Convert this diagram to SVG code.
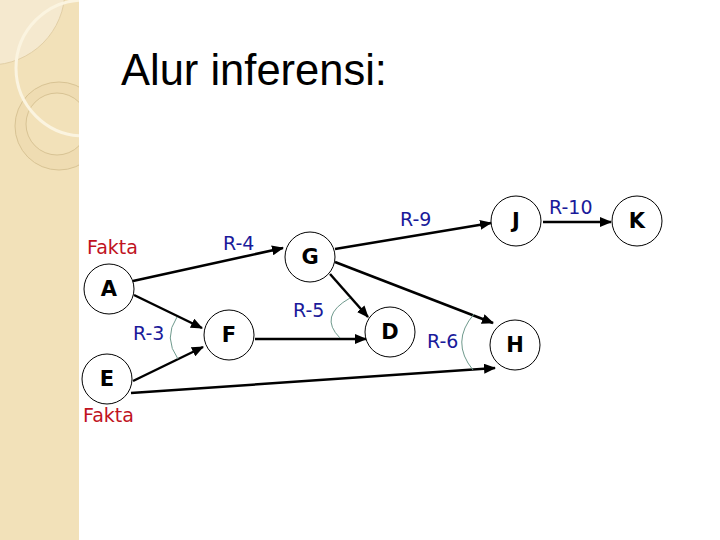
<svg xmlns="http://www.w3.org/2000/svg" width="720" height="540" viewBox="0 0 720 540">
<defs>
<marker id="ah" viewBox="0 0 12 10" refX="11" refY="5" markerWidth="12" markerHeight="10" markerUnits="userSpaceOnUse" orient="auto">
<path d="M0,0 L12,5 L0,10 Z" fill="#000"/>
</marker>
<clipPath id="band"><rect x="0" y="0" width="79" height="540"/></clipPath>
</defs>
<style>
.node circle{fill:#fff;stroke:#000;stroke-width:1}
.node text{font-family:"DejaVu Sans",Verdana,sans-serif;font-weight:bold;font-size:21px;text-anchor:middle;fill:#000}
.edge{stroke:#000;stroke-width:2.5;fill:none;marker-end:url(#ah)}
.arc{stroke:#6f9a8d;stroke-width:1;fill:none}
.rule{font-family:"DejaVu Sans",Verdana,sans-serif;font-size:19px;fill:#1a1a9a}
.fakta{font-family:"DejaVu Sans",Verdana,sans-serif;font-size:19px;fill:#c0141e}
</style>
<rect width="720" height="540" fill="#fff"/>
<g id="background" clip-path="url(#band)">
<rect x="0" y="0" width="79" height="540" fill="#f2e1b9"/>
<circle cx="-10" cy="-10" r="75" fill="#f5e9cf" stroke="#e2cfa6" stroke-width="1"/>
<circle cx="59" cy="126" r="44" fill="#efdcb2" stroke="#d8c394" stroke-width="1"/>
<circle cx="57" cy="124" r="31" fill="#f2e1b9" stroke="#d8c394" stroke-width="1"/>
<circle cx="84" cy="68" r="68" fill="none" stroke="#fbf4e0" stroke-width="3"/>
</g>
<text x="121" y="85" font-family="Liberation Sans, Arial, sans-serif" font-size="43.5" fill="#000">Alur inferensi:</text>
<g id="connectors">
<line class="edge" x1="133" y1="281" x2="283" y2="248"/>
<line class="edge" x1="134" y1="295" x2="202" y2="328"/>
<line class="edge" x1="133" y1="381" x2="203" y2="347"/>
<line class="edge" x1="131" y1="393" x2="495" y2="368"/>
<line class="edge" x1="255" y1="339" x2="366" y2="339"/>
<line class="edge" x1="330" y1="274" x2="368" y2="317"/>
<line class="edge" x1="335" y1="249" x2="491" y2="223"/>
<line class="edge" x1="335" y1="262" x2="493" y2="323"/>
<line class="edge" x1="543" y1="222" x2="611" y2="222"/>
<path class="arc" d="M177,317 Q163,338 178,359"/>
<path class="arc" d="M350,298 Q318,316 340,338"/>
<path class="arc" d="M474,314 Q450,342 473,370"/>
</g>
<g id="labels">
<text class="fakta" x="87" y="254">Fakta</text>
<text class="fakta" x="83" y="422">Fakta</text>
<text class="rule" x="223" y="250">R-4</text>
<text class="rule" x="133" y="340">R-3</text>
<text class="rule" x="293" y="317">R-5</text>
<text class="rule" x="400" y="226">R-9</text>
<text class="rule" x="427" y="348">R-6</text>
<text class="rule" x="549" y="214">R-10</text>
</g>
<g id="node-A" class="node"><circle cx="109" cy="289" r="25"/><text x="109" y="296">A</text></g>
<g id="node-E" class="node"><circle cx="107" cy="379" r="25"/><text x="107" y="386">E</text></g>
<g id="node-F" class="node"><circle cx="229" cy="335" r="25"/><text x="229" y="342">F</text></g>
<g id="node-G" class="node"><circle cx="310" cy="257" r="25"/><text x="310" y="264">G</text></g>
<g id="node-D" class="node"><circle cx="390" cy="332" r="25"/><text x="390" y="339">D</text></g>
<g id="node-J" class="node"><circle cx="516" cy="221" r="25"/><text x="516" y="228">J</text></g>
<g id="node-K" class="node"><circle cx="637" cy="221" r="25"/><text x="637" y="228">K</text></g>
<g id="node-H" class="node"><circle cx="515" cy="345" r="25"/><text x="515" y="352">H</text></g>
</svg>
